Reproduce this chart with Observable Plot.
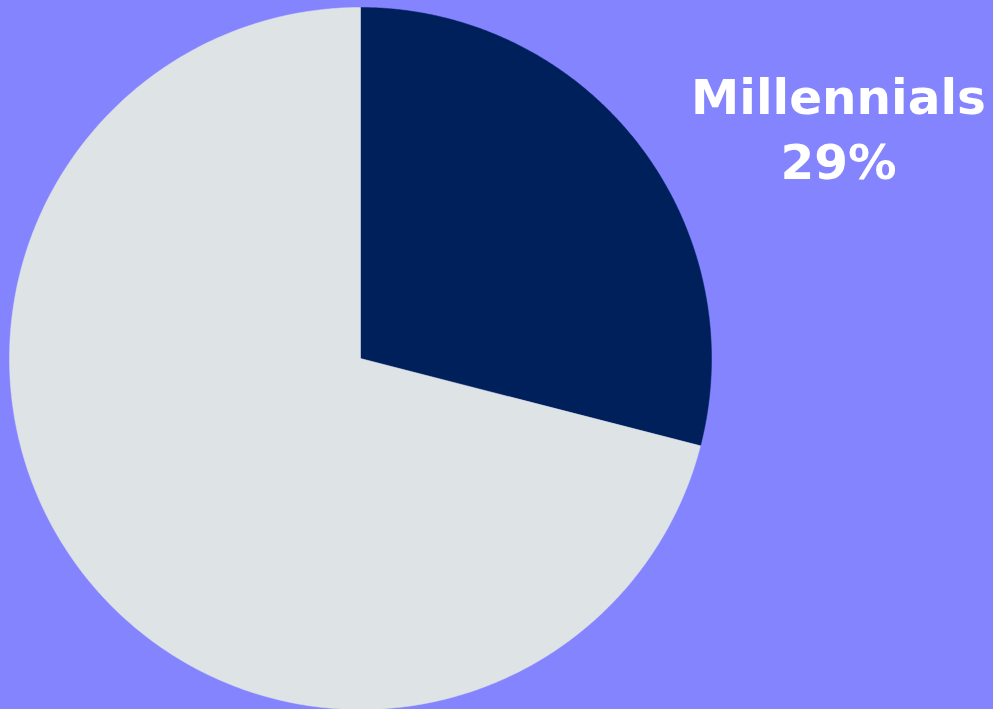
<!DOCTYPE html>
<html>
<head>
<meta charset="utf-8">
<script src="https://cdn.jsdelivr.net/npm/d3@7"></script>
<script src="https://cdn.jsdelivr.net/npm/@observablehq/plot@0.6"></script>
<style>
  html, body { margin: 0; padding: 0; background: #8484FF; }
  #chart { width: 993px; height: 709px; overflow: hidden; }
</style>
</head>
<body>
<div id="chart"></div>
<script>
const categories = ["Millennials", "Other"];
const values = [29, 71];
const colors = ["#00205C", "#DEE3E6"];
const labelText = ["Millennials", "29%"];

const pie = d3.pie().sort(null).value(d => d)(values);
const pts = [];
pie.forEach((p, i) => {
  const n = 400;
  pts.push({cat: categories[i], x: 0, y: 0});
  for (let k = 0; k <= n; k++) {
    const a = p.startAngle + (p.endAngle - p.startAngle) * k / n;
    pts.push({cat: categories[i], x: Math.sin(a), y: Math.cos(a)});
  }
  pts.push({cat: categories[i], x: 0, y: 0});
});

const chart = Plot.plot({
  width: 993,
  height: 709,
  margin: 0,
  style: {background: "#8484FF", overflow: "visible"},
  x: {domain: [-1, 1], range: [9, 711], axis: null},
  y: {domain: [-1, 1], range: [709, 7], axis: null},
  color: {domain: categories, range: colors},
  marks: [
    Plot.line(pts, {x: "x", y: "y", z: "cat", fill: "cat", stroke: "cat", strokeWidth: 0.5, curve: "linear"}),
    Plot.text([labelText.join("\n")], {
      text: d => d,
      frameAnchor: "top-right",
      dx: -155, dy: 67,
      textAnchor: "middle",
      lineAnchor: "top",
      lineHeight: 1.34,
      fill: "white",
      fontSize: 48.5,
      fontWeight: "bold",
      fontFamily: "DejaVu Sans, sans-serif"
    })
  ]
});
document.getElementById("chart").appendChild(chart);
</script>
</body>
</html>
